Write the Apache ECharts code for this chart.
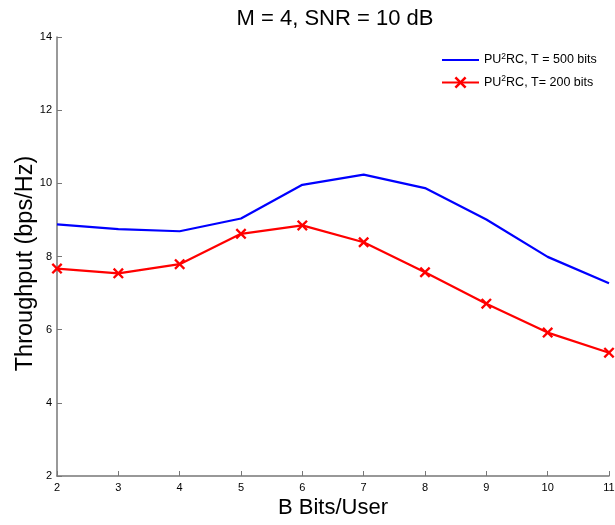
<!DOCTYPE html>
<html><head><meta charset="utf-8">
<script src="https://cdn.jsdelivr.net/npm/echarts@6/dist/echarts.min.js"></script>
<style>html,body{margin:0;padding:0;background:#fff}#c{width:615px;height:525px}</style>
</head><body><div id="c"></div>
<script>
var bits = [2, 3, 4, 5, 6, 7, 8, 9, 10, 11];
var t500 = [8.88, 8.75, 8.69, 9.04, 9.96, 10.24, 9.87, 9.01, 7.99, 7.27];
var t200 = [7.67, 7.54, 7.79, 8.62, 8.85, 8.39, 7.57, 6.71, 5.92, 5.37];
var seriesNames = ['PU{s|2}RC, T = 500 bits', 'PU{s|2}RC, T= 200 bits'];
var titleText = 'M = 4, SNR = 10 dB';
var xName = 'B Bits/User';
var yName = 'Throughput (bps/Hz)';

var FONT = 'Liberation Sans, Arial, sans-serif';
var crossPath = 'path://M0,1.5 L1.5,0 L5,3.5 L8.5,0 L10,1.5 L6.5,5 L10,8.5 L8.5,10 L5,6.5 L1.5,10 L0,8.5 L3.5,5 Z';
function pairs(xs, ys){ return xs.map(function(x,i){ return [x, ys[i]]; }); }

var chart = echarts.init(document.getElementById('c'), null, {renderer:'canvas'});
chart.setOption({
  animation: false,
  backgroundColor: '#fff',
  textStyle: {fontFamily: FONT},
  title: {
    text: titleText, left: 330, top: 3, textAlign: 'center',
    textStyle: {fontFamily: FONT, fontSize: 22, fontWeight: 'normal', color: '#000'}
  },
  grid: {left: 57, right: 6, top: 37, bottom: 49, containLabel: false, outerBoundsMode: 'none'},
  legend: {
    left: 441, top: 52, orient: 'vertical', itemGap: 8, padding: 0,
    itemWidth: 37, itemHeight: 15,
    data: [{name: seriesNames[0], itemStyle: {opacity: 0}}, {name: seriesNames[1]}],
    textStyle: {fontFamily: FONT, fontSize: 12.5, color: '#000',
      rich: {s: {fontSize: 8.5, verticalAlign: 'top', padding: [0,0,7,0], fontFamily: FONT, color:'#000'}}}
  },
  xAxis: {
    type: 'value', min: 2, max: 11, interval: 1,
    name: xName, nameLocation: 'middle', nameGap: 21, nameMoveOverlap: false,
    nameTextStyle: {fontFamily: FONT, fontSize: 22, color: '#000'},
    axisLine: {lineStyle: {color: '#777', width: 1.5}},
    axisTick: {inside: true, length: 5, lineStyle: {color: '#777'}},
    axisLabel: {fontFamily: FONT, fontSize: 11, color: '#000', margin: 6},
    splitLine: {show: false}
  },
  yAxis: {
    type: 'value', min: 2, max: 14, interval: 2,
    name: yName, nameLocation: 'middle', nameGap: 19, nameMoveOverlap: false,
    nameTextStyle: {fontFamily: FONT, fontSize: 23.5, color: '#000', padding: [0, 14, 0, 0]},
    axisLine: {show: true, lineStyle: {color: '#777', width: 1.5}},
    axisTick: {show: true, inside: true, length: 5, lineStyle: {color: '#777'}},
    axisLabel: {fontFamily: FONT, fontSize: 11, color: '#000', margin: 5},
    splitLine: {show: false}
  },
  series: [
    {name: seriesNames[0], type: 'line', data: pairs(bits, t500),
     showSymbol: false, symbol: 'none',
     lineStyle: {color: '#0000ff', width: 2.2}, itemStyle: {color: '#0000ff'}},
    {name: seriesNames[1], type: 'line', data: pairs(bits, t200),
     symbol: crossPath, symbolSize: 11,
     lineStyle: {color: '#ff0000', width: 2.2}, itemStyle: {color: '#ff0000'}}
  ]
});
</script></body></html>
